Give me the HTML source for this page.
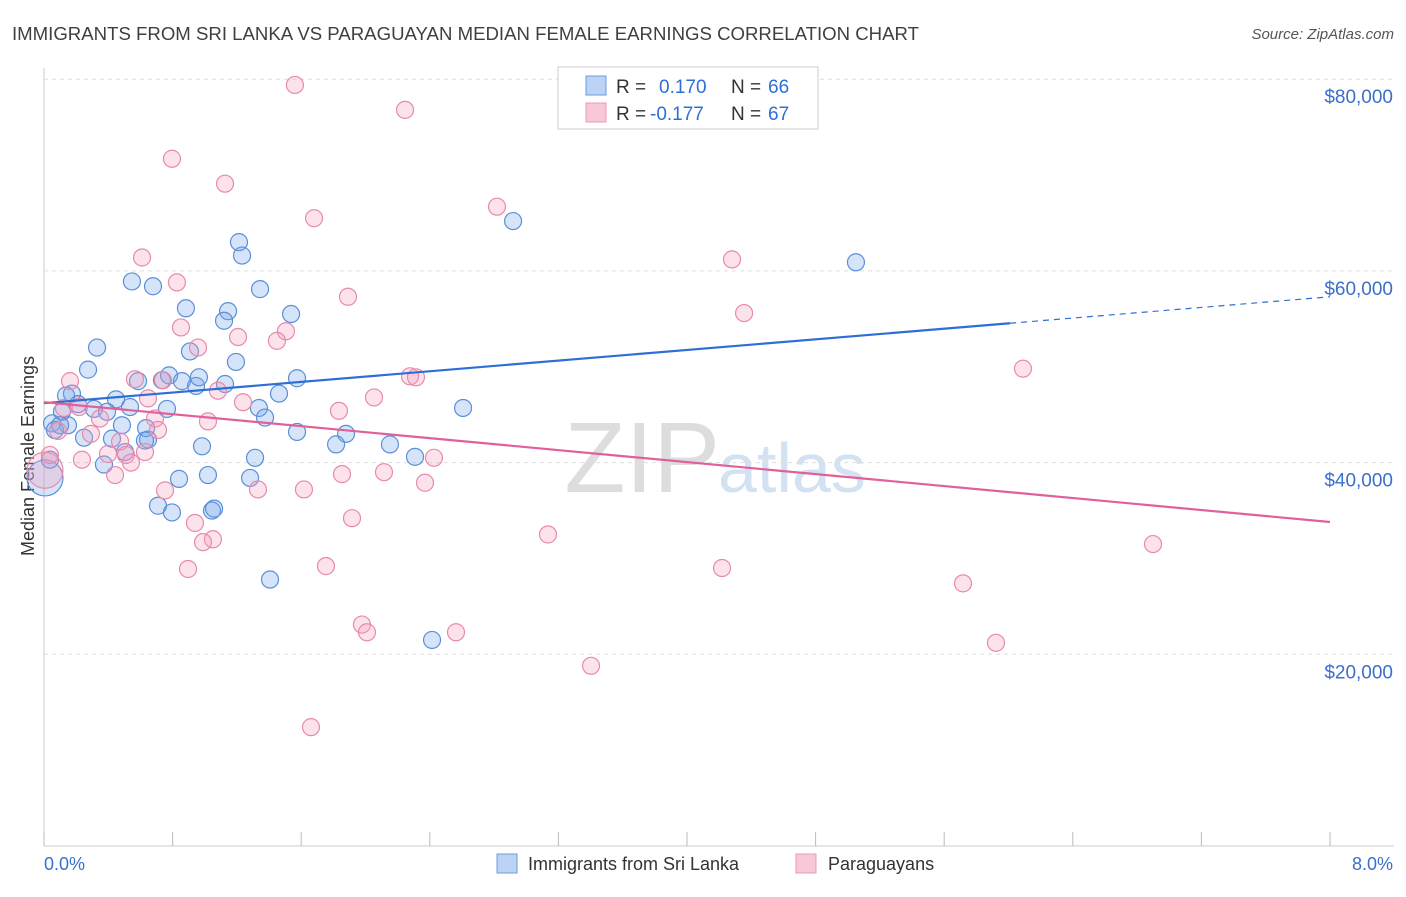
<!DOCTYPE html>
<html><head><meta charset="utf-8"><style>
body{margin:0;background:#fff;font-family:"Liberation Sans",sans-serif;}
svg text{font-family:"Liberation Sans",sans-serif;}
</style></head><body>
<svg id="c" width="1406" height="892">
<text x="12" y="40" font-size="18" fill="#3f3f3f" textLength="907" lengthAdjust="spacingAndGlyphs">IMMIGRANTS FROM SRI LANKA VS PARAGUAYAN MEDIAN FEMALE EARNINGS CORRELATION CHART</text>
<text x="1394" y="39" font-size="15" fill="#555" text-anchor="end" font-style="italic">Source: ZipAtlas.com</text>
<text x="720" y="492" font-size="100" fill="#ddd" text-anchor="end" font-family="Liberation Serif">ZIP</text>
<text x="718" y="492" font-size="70" fill="#d3e2f3">atlas</text>
<text transform="translate(34,456) rotate(-90)" font-size="18" fill="#333" text-anchor="middle">Median Female Earnings</text>
<g id="grid"></g><g id="pts"></g><g id="lines"></g>
<g>
<rect x="558" y="67" width="260" height="62" fill="#fff" stroke="#ccc"/>
<rect x="586" y="76" width="20" height="19" fill="#bcd3f5" stroke="#6b9be0"/>
<rect x="586" y="103" width="20" height="19" fill="#f8c8d7" stroke="#e89ab4"/>
<text x="616" y="93" font-size="19" fill="#333">R =</text>
<text x="659" y="93" font-size="19" fill="#2d6fd6">0.170</text>
<text x="731" y="93" font-size="19" fill="#333">N =</text>
<text x="768" y="93" font-size="19" fill="#2d6fd6">66</text>
<text x="616" y="120" font-size="19" fill="#333">R =</text>
<text x="650" y="120" font-size="19" fill="#2d6fd6">-0.177</text>
<text x="731" y="120" font-size="19" fill="#333">N =</text>
<text x="768" y="120" font-size="19" fill="#2d6fd6">67</text>
</g>
<g>
<rect x="497" y="854" width="20" height="19" fill="#bcd3f5" stroke="#6b9be0"/>
<text x="528" y="870" font-size="18" fill="#333">Immigrants from Sri Lanka</text>
<rect x="796" y="854" width="20" height="19" fill="#f8c8d7" stroke="#e89ab4"/>
<text x="828" y="870" font-size="18" fill="#333">Paraguayans</text>
</g>
<text x="44" y="870" font-size="18" fill="#3a6fcc">0.0%</text>
<text x="1393" y="870" font-size="18" fill="#3a6fcc" text-anchor="end">8.0%</text>
</svg>
<script>
const blueX=[0.547,0.678,1.213,1.232,1.344,2.918,5.051,0.883,1.145,1.120,1.537,0.330,0.908,1.194,0.274,0.585,0.734,0.778,0.858,0.946,0.964,1.126,1.574,1.462,0.174,0.212,0.448,0.535,0.112,0.311,0.392,0.765,1.337,1.375,2.607,0.050,0.149,0.485,0.635,0.647,0.628,0.249,0.423,0.983,1.574,1.879,1.817,2.152,0.504,0.373,1.313,2.308,0.840,1.020,1.282,0.709,0.796,1.045,1.058,1.406,2.414,0.006,0.037,0.068,0.100,0.137];
const blueY=[58.9,58.4,63.0,61.6,58.1,65.2,60.9,56.1,55.8,54.8,55.5,52.0,51.6,50.5,49.7,48.5,48.6,49.1,48.5,48.0,48.9,48.2,48.8,47.2,47.2,46.1,46.6,45.8,45.3,45.6,45.3,45.6,45.7,44.7,45.7,44.1,43.9,43.9,43.6,42.4,42.3,42.6,42.5,41.7,43.2,43.0,41.9,41.9,41.1,39.8,40.5,40.6,38.3,38.7,38.4,35.5,34.8,35.0,35.2,27.8,21.5,38.4,40.3,43.4,43.9,47.0];
const pinkX=[1.561,2.246,0.796,1.126,2.818,1.680,0.610,0.827,4.280,1.891,4.355,0.852,1.207,1.505,1.449,0.958,6.090,0.162,0.566,0.740,2.277,2.314,1.082,1.238,2.053,0.647,0.124,0.218,0.348,1.020,1.835,0.691,0.709,0.087,0.292,0.473,0.628,0.510,0.236,0.398,0.541,0.442,2.426,2.115,1.854,2.370,1.331,1.617,0.753,1.916,0.939,3.135,6.899,1.051,0.989,0.896,1.754,4.218,5.717,1.978,2.009,2.563,5.922,3.403,1.661,0.006,0.037];
const pinkY=[79.4,76.8,71.7,69.1,66.7,65.5,61.4,58.8,61.2,57.3,55.6,54.1,53.1,53.7,52.7,52.0,49.8,48.5,48.7,48.6,49.0,48.9,47.5,46.3,46.8,46.7,45.7,45.8,44.6,44.3,45.4,44.6,43.4,43.3,43.0,42.2,41.1,40.8,40.3,40.9,40.0,38.7,40.5,39.0,38.8,37.9,37.2,37.2,37.1,34.2,33.7,32.5,31.5,32.0,31.7,28.9,29.2,29.0,27.4,23.1,22.3,22.3,21.2,18.8,12.4,39.2,40.8];
const yTicks=[20,40,60,80];
const yTickLabels=["$20,000","$40,000","$60,000","$80,000"];
const blueTrend=[46.2,57.3], pinkTrend=[46.3,33.8], blueSolidEnd=6.01;
const NS="http://www.w3.org/2000/svg";
const sx=v=>44+v*160.75, sy=v=>846-v*9.585;
function mk(t,a,p){const e=document.createElementNS(NS,t);for(const k in a)e.setAttribute(k,a[k]);p.appendChild(e);return e;}
const grid=document.getElementById('grid');
mk('line',{x1:44,y1:68,x2:44,y2:846,stroke:'#ccc'},grid);
mk('line',{x1:44,y1:846,x2:1394,y2:846,stroke:'#ccc'},grid);
for(let i=0;i<=10;i++){const l=mk('line',{x1:sx(i*0.8),y1:832,x2:sx(i*0.8),y2:846,stroke:'#bbb'},grid);

}
yTicks.forEach((v,i)=>{const l=mk('line',{x1:44,y1:sy(v),x2:1394,y2:sy(v),stroke:'#ddd','stroke-dasharray':'4,4'},grid);


const t=mk('text',{x:1393,y:sy(v)+24,'font-size':19,fill:'#3a6fcc','text-anchor':'end'},grid);t.textContent=yTickLabels[i];

});
const pts=document.getElementById('pts');
function dots(X,Y,fill,stroke,name){X.forEach((x,i)=>{const big=x<0.01;const c=mk('circle',{cx:sx(x),cy:sy(Y[i]),r:big?18:8.5,fill:fill,stroke:stroke,'stroke-width':1.2},pts);

});}
dots(blueX,blueY,'rgba(120,165,235,0.3)','#5a8fd8','sri-lanka-point');
dots(pinkX,pinkY,'rgba(245,160,190,0.3)','#e88aab','paraguayan-point');
const lines=document.getElementById('lines');
const bm=blueTrend[0]+(blueTrend[1]-blueTrend[0])*blueSolidEnd/8;
let l=mk('line',{x1:sx(0),y1:sy(blueTrend[0]),x2:sx(blueSolidEnd),y2:sy(bm),stroke:'#2d6fd6','stroke-width':2.2},lines);


l=mk('line',{x1:sx(blueSolidEnd),y1:sy(bm),x2:sx(8),y2:sy(blueTrend[1]),stroke:'#2d6fd6','stroke-width':1.2,'stroke-dasharray':'6,5'},lines);


l=mk('line',{x1:sx(0),y1:sy(pinkTrend[0]),x2:sx(8),y2:sy(pinkTrend[1]),stroke:'#e0609a','stroke-width':2.2},lines);


</script>
</body></html>
